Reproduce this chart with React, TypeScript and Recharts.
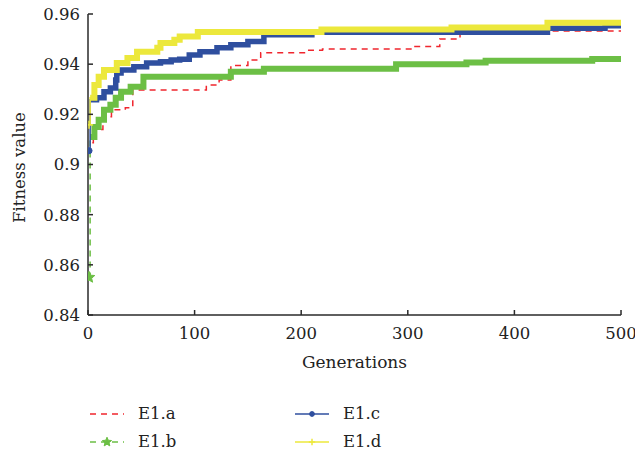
import React from "react";
import { LineChart, Line, XAxis, YAxis, Legend, Label } from "recharts";

// E1.a (red dashed)
const aGen = [4, 5, 14, 22, 35, 42, 111, 123, 134, 150, 162, 205, 220, 304, 330, 349, 368, 431, 500];
const aVal = [0.9087, 0.914, 0.919, 0.9218, 0.9226, 0.9297, 0.9317, 0.9337, 0.9395, 0.9417, 0.9446, 0.9455, 0.946, 0.947, 0.95, 0.9519, 0.9526, 0.9532, 0.9533];
// E1.b (green, star)
const bGen = [1, 2, 6, 10, 15, 21, 26, 31, 40, 52, 134, 165, 289, 355, 373, 473, 500];
const bVal = [0.855, 0.911, 0.915, 0.9178, 0.9218, 0.9238, 0.9266, 0.929, 0.931, 0.935, 0.937, 0.9382, 0.94, 0.9407, 0.9414, 0.9421, 0.9421];
// E1.c (blue, dot)
const cGen = [1, 2, 8, 15, 21, 26, 27, 31, 43, 55, 68, 78, 86, 95, 105, 121, 134, 150, 165, 210, 431, 485, 500];
const cVal = [0.9055, 0.9258, 0.9266, 0.929, 0.9305, 0.9337, 0.9365, 0.9377, 0.939, 0.9405, 0.941, 0.9417, 0.942, 0.9437, 0.945, 0.9465, 0.9477, 0.949, 0.9517, 0.9527, 0.9543, 0.9553, 0.9558];
// E1.d (yellow, plus)
const dGen = [1, 2, 6, 10, 15, 27, 37, 46, 65, 68, 81, 86, 103, 219, 341, 431, 500];
const dVal = [0.9158, 0.9266, 0.9317, 0.935, 0.9377, 0.9405, 0.9425, 0.945, 0.9465, 0.9484, 0.9497, 0.951, 0.9528, 0.9538, 0.9546, 0.9565, 0.9568];

const xTicks = [0, 100, 200, 300, 400, 500];
const yTicks = [0.84, 0.86, 0.88, 0.9, 0.92, 0.94, 0.96];
const seriesNames = ["E1.a", "E1.b", "E1.c", "E1.d"];

const RED = "#f0262e";
const GREEN = "#6cbf45";
const BLUE = "#2f4f9f";
const YELLOW = "#ece83c";
const AXIS = "#2a2a2a";
const FONT = "DejaVu Serif";

const toData = (g: number[], v: number[]) => g.map((x, i) => ({ x, y: v[i] }));
const aData = toData(aGen, aVal);
const bData = toData(bGen, bVal);
const cData = toData(cGen, cVal);
const dData = toData(dGen, dVal);

const starPath = (cx: number, cy: number, r: number) => {
  const pts: string[] = [];
  for (let i = 0; i < 10; i++) {
    const rr = i % 2 === 0 ? r : r * 0.45;
    const ang = -Math.PI / 2 + (i * Math.PI) / 5;
    pts.push(`${cx + rr * Math.cos(ang)},${cy + rr * Math.sin(ang)}`);
  }
  return "M" + pts.join("L") + "Z";
};

const Marker = ({ kind, cx, cy, color, s = 1 }: { kind: string; cx: number; cy: number; color: string; s?: number }) => {
  if (kind === "star") return <path d={starPath(cx, cy, 6 * s)} fill={color} stroke={color} />;
  if (kind === "dot") return <circle cx={cx} cy={cy} r={3 * s} fill={color} stroke={color} />;
  if (kind === "plus")
    return (
      <g stroke={color} strokeWidth={1.5}>
        <line x1={cx - 4 * s} y1={cy} x2={cx + 4 * s} y2={cy} />
        <line x1={cx} y1={cy - 4 * s} x2={cx} y2={cy + 4 * s} />
      </g>
    );
  return null;
};

const firstDot = (kind: string, color: string) => (props: any) => {
  const { cx, cy, index } = props;
  if (index !== 0) return <g key={`d${index}`} />;
  return (
    <g key={`d${index}`}>
      <Marker kind={kind} cx={cx} cy={cy} color={color} />
    </g>
  );
};

const legendItems = [
  { name: seriesNames[0], color: RED, dash: "6 5", marker: "", left: 88, top: 8 },
  { name: seriesNames[1], color: GREEN, dash: "6 5", marker: "star", left: 88, top: 36 },
  { name: seriesNames[2], color: BLUE, dash: "", marker: "dot", left: 293, top: 8 },
  { name: seriesNames[3], color: YELLOW, dash: "", marker: "plus", left: 293, top: 36 },
];

const renderLegend = () => (
  <div style={{ position: "relative", width: 635, height: 60 }}>
    {legendItems.map((it) => (
      <div
        key={it.name}
        style={{ position: "absolute", left: it.left, top: it.top, display: "flex", alignItems: "center", height: 16 }}
      >
        <svg width={38} height={16}>
          <line x1={2} y1={8} x2={36} y2={8} stroke={it.color} strokeWidth={1.6} strokeDasharray={it.dash || undefined} />
          {it.marker && <Marker kind={it.marker} cx={19} cy={8} color={it.color} s={0.8} />}
        </svg>
        <span style={{ marginLeft: 12, fontFamily: FONT, fontSize: 16.5, color: "#222", lineHeight: "16px" }}>{it.name}</span>
      </div>
    ))}
  </div>
);

const YLabel = (props: any) => {
  const vb = props.viewBox || {};
  const x = 19;
  const y = vb.y + vb.height / 2 + 3;
  return (
    <text x={x} y={y} transform={`rotate(-90 ${x} ${y})`} textAnchor="middle" dominantBaseline="central" fontFamily={FONT} fontSize={16.5} fill="#222">
      Fitness value
    </text>
  );
};

export default function App() {
  const tickStyle = { fontFamily: FONT, fontSize: 16.5, fill: "#222" };
  return (
    <div style={{ position: "absolute", left: 0, top: 0, width: 635, height: 455, background: "#fff" }}>
      <LineChart width={635} height={455} margin={{ top: 14, right: 14, left: 0, bottom: 100 }}>
        <XAxis
          type="number"
          dataKey="x"
          domain={[0, 500]}
          ticks={xTicks}
          allowDataOverflow
          height={40}
          tickSize={-5}
          tickMargin={17}
          tick={tickStyle}
          stroke={AXIS}
          strokeWidth={1.5}
        >
          <Label value="Generations" position="bottom" offset={1} style={{ fontFamily: FONT, fontSize: 17, fill: "#222" }} />
        </XAxis>
        <XAxis
          xAxisId="top"
          orientation="top"
          type="number"
          dataKey="x"
          domain={[0, 500]}
          ticks={xTicks}
          height={0}
          tickSize={-5}
          tick={false}
          stroke={AXIS}
          strokeWidth={1.5}
        />
        <YAxis
          type="number"
          domain={[0.84, 0.96]}
          ticks={yTicks}
          allowDataOverflow
          width={88}
          tickSize={-5}
          tickMargin={13}
          tick={tickStyle}
          stroke={AXIS}
          strokeWidth={1.5}
        >
          <Label content={<YLabel />} />
        </YAxis>
        <YAxis
          yAxisId="right"
          orientation="right"
          type="number"
          domain={[0.84, 0.96]}
          ticks={yTicks}
          width={0}
          tickSize={-5}
          tick={false}
          stroke={AXIS}
          strokeWidth={1.5}
        />
        <Legend layout="horizontal" verticalAlign="middle" content={renderLegend} wrapperStyle={{ position: "absolute", left: 0, top: 398, width: 635, height: 60 }} />

        <Line data={aData} dataKey="y" name={seriesNames[0]} type="stepAfter" stroke={RED} strokeWidth={1.5} strokeDasharray="6 5" dot={false} isAnimationActive={false} legendType="none" />

        <Line data={bData} dataKey="y" name={seriesNames[1]} type="stepAfter" stroke={GREEN} strokeWidth={1.5} strokeDasharray="6 5" dot={firstDot("star", GREEN)} isAnimationActive={false} />
        <Line data={bData.slice(1)} dataKey="y" name="b-band" type="stepAfter" stroke={GREEN} strokeWidth={6} dot={false} isAnimationActive={false} legendType="none" />

        <Line data={cData} dataKey="y" name={seriesNames[2]} type="stepAfter" stroke={BLUE} strokeWidth={1.5} dot={firstDot("dot", BLUE)} isAnimationActive={false} />
        <Line data={cData.slice(1)} dataKey="y" name="c-band" type="stepAfter" stroke={BLUE} strokeWidth={5.5} dot={false} isAnimationActive={false} legendType="none" />

        <Line data={dData} dataKey="y" name={seriesNames[3]} type="stepAfter" stroke={YELLOW} strokeWidth={1.5} dot={firstDot("plus", YELLOW)} isAnimationActive={false} />
        <Line data={dData.slice(1)} dataKey="y" name="d-band" type="stepAfter" stroke={YELLOW} strokeWidth={6} dot={false} isAnimationActive={false} legendType="none" />
      </LineChart>
    </div>
  );
}
